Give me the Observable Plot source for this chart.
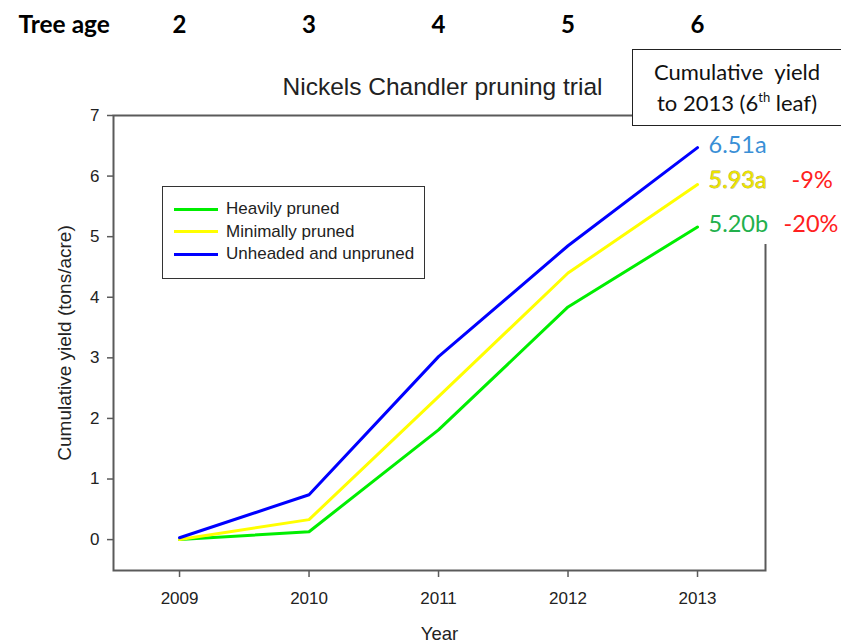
<!DOCTYPE html>
<html><head><meta charset="utf-8">
<script src="https://cdn.jsdelivr.net/npm/d3@7"></script>
<script src="https://cdn.jsdelivr.net/npm/@observablehq/plot@0.6"></script>
<style>
body{margin:0;background:#fff;}
#wrap{position:relative;width:841px;height:643px;overflow:hidden;background:#fff;}
#legend{position:absolute;left:162px;top:186px;width:263px;height:93px;border:1.5px solid #333;background:#fff;box-sizing:border-box;font-family:"Liberation Sans",Arial,sans-serif;font-size:17px;color:#222;}
.item{position:absolute;left:11px;height:20px;display:flex;align-items:center;}
.sw{width:44px;height:3px;margin-right:8px;}
#callout{position:absolute;left:632px;top:49px;width:209px;height:77px;border:1.5px solid #222;border-right:none;background:#fff;box-sizing:border-box;font-family:Lato,"Open Sans",sans-serif;font-size:22px;color:#111;text-align:center;line-height:31px;padding-top:6px;}
#callout sup{font-size:13px;vertical-align:top;line-height:20px;}
#mask{position:absolute;left:760px;top:126px;width:10px;height:118px;background:#fff;}
</style></head><body><div id="wrap"></div>
<script>
const years = [2009, 2010, 2011, 2012, 2013];
const treeAges = [2, 3, 4, 5, 6];
const heavilyPruned = [0.00, 0.13, 1.81, 3.84, 5.16];
const minimallyPruned = [0.00, 0.33, 2.36, 4.40, 5.86];
const unheadedUnpruned = [0.03, 0.74, 3.02, 4.85, 6.47];
const seriesNames = ["Heavily pruned", "Minimally pruned", "Unheaded and unpruned"];
const seriesColors = ["#00ee00", "#ffff00", "#0000ff"];
const endLabels = ["5.20b", "5.93a", "6.51a"];
const endLabelValues = [5.20, 5.93, 6.51];
const endLabelColors = ["#22b04c", "#ece400", "#3a8fd6"];
const endLabelOutline = ["none", "#b0a440", "none"];
const diffLabels = ["-20%", "-9%"];
const diffValues = [5.20, 5.93];
const yTicks = [0, 1, 2, 3, 4, 5, 6, 7];

const seriesValues = [heavilyPruned, minimallyPruned, unheadedUnpruned];
const rows = seriesValues.flatMap((vals, s) => years.map((yr, i) => ({year: yr, value: vals[i], series: seriesNames[s]})));
const labelRows = endLabels.map((t, i) => ({year: 2013, value: endLabelValues[i], text: t, color: endLabelColors[i], outline: endLabelOutline[i]}));

const sans = "'Liberation Sans', Arial, sans-serif";
const lato = "Lato, 'Open Sans', sans-serif";
const chart = Plot.plot({
  width: 841, height: 643,
  marginLeft: 113, marginRight: 76, marginTop: 115, marginBottom: 73,
  style: {fontFamily: sans, fontSize: "17px", background: "#fff", overflow: "visible"},
  x: {domain: [2008.49, 2013.525]},
  y: {domain: [-0.51, 7]},
  color: {domain: seriesNames, range: seriesColors},
  marks: [
    Plot.frame({stroke: "#5a5a5a", strokeWidth: 2}),
    Plot.axisX({ticks: years, tickFormat: d => String(d), tickSize: 7, tickPadding: 14, fontSize: 17, label: null, stroke: "#5a5a5a", strokeWidth: 1.5, fill: "#222"}),
    Plot.axisY({ticks: yTicks, tickSize: 6, tickPadding: 8, fontSize: 17, label: null, stroke: "#5a5a5a", strokeWidth: 1.5, fill: "#222"}),
    Plot.line(rows, {x: "year", y: "value", stroke: "series", strokeWidth: 3, z: "series"}),
    Plot.text(years, {x: d => d, y: () => 7, text: (d, i) => String(treeAges[i]), dy: -90, fontSize: 24, fontWeight: "bold", fontFamily: lato, fill: "#000"}),
    Plot.text(["Tree age"], {frameAnchor: "top-left", lineAnchor: "middle", dx: -95, dy: -90, textAnchor: "start", fontSize: 24.5, fontWeight: "bold", fontFamily: lato, fill: "#000"}),
    Plot.text(["Nickels Chandler pruning trial"], {frameAnchor: "top", lineAnchor: "middle", dx: 3, dy: -28.5, fontSize: 24.5, fill: "#222"}),
    Plot.text(["Cumulative yield (tons/acre)"], {frameAnchor: "left", textAnchor: "middle", lineAnchor: "middle", dx: -49, rotate: -90, fontSize: 19, fill: "#222"}),
    Plot.text(["Year"], {frameAnchor: "bottom", lineAnchor: "middle", dy: 64, fontSize: 18.5, fill: "#222"})
  ]
});
const labels = Plot.plot({
  width: 841, height: 643,
  marginLeft: 113, marginRight: 76, marginTop: 115, marginBottom: 73,
  style: {fontFamily: sans, background: "transparent", overflow: "visible", position: "absolute", left: "0px", top: "0px"},
  x: {domain: [2008.49, 2013.525], axis: null},
  y: {domain: [-0.51, 7], axis: null},
  marks: [
    Plot.text(labelRows, {x: "year", y: "value", text: "text", fill: "color", stroke: "outline", strokeWidth: 0.8, paintOrder: "stroke", dx: 11, textAnchor: "start", fontSize: 23.5, fontFamily: lato}),
    Plot.text([diffLabels[1]], {x: () => 2013, y: () => diffValues[1], text: d => d, fill: "#ff2020", dx: 94, textAnchor: "start", fontSize: 23.5, fontFamily: lato}),
    Plot.text([diffLabels[0]], {x: () => 2013, y: () => diffValues[0], text: d => d, fill: "#ff2020", dx: 86, textAnchor: "start", fontSize: 23.5, fontFamily: lato})
  ]
});
const wrap = document.getElementById("wrap");
wrap.appendChild(chart);

const mask = document.createElement("div");
mask.id = "mask";
wrap.appendChild(mask);
wrap.appendChild(labels);

const legend = document.createElement("div");
legend.id = "legend";
seriesNames.forEach((n, i) => {
  const it = document.createElement("div");
  it.className = "item";
  it.style.top = (12 + i * 22.5) + "px";
  const sw = document.createElement("div");
  sw.className = "sw";
  sw.style.background = seriesColors[i];
  it.appendChild(sw);
  const t = document.createElement("span");
  t.textContent = n;
  it.appendChild(t);
  legend.appendChild(it);
});
wrap.appendChild(legend);

const callout = document.createElement("div");
callout.id = "callout";
callout.innerHTML = '<div style="word-spacing:6px">Cumulative yield</div><div>to 2013 (6<sup>th</sup> leaf)</div>';
wrap.appendChild(callout);
</script>
</body></html>
